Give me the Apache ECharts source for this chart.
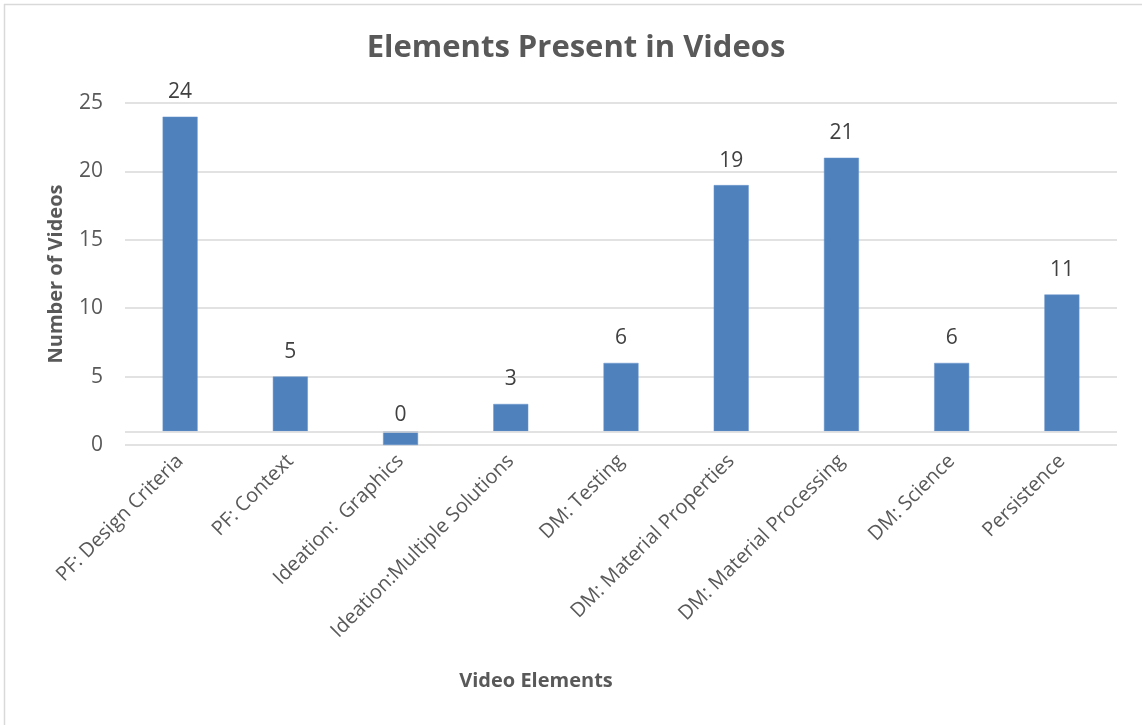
<!DOCTYPE html>
<html>
<head>
<meta charset="utf-8">
<script src="https://cdn.jsdelivr.net/npm/echarts@6/dist/echarts.min.js"></script>
<style>
  html, body { margin: 0; padding: 0; background: #ffffff; }
  #chart { width: 1142px; height: 725px; }
</style>
</head>
<body>
<div id="chart"></div>
<script>
// ---- data ----
var categories = [
  'PF: Design Criteria',
  'PF: Context',
  'Ideation:  Graphics',
  'Ideation:Multiple Solutions',
  'DM: Testing',
  'DM: Material Properties',
  'DM: Material Processing',
  'DM: Science',
  'Persistence'
];
var values = [24, 5, 0, 3, 6, 19, 21, 6, 11];
var yTicks = [0, 5, 10, 15, 20, 25];
var axisCross = 1; // horizontal axis crosses the value axis at 1

var chart = echarts.init(document.getElementById('chart'), null, { renderer: 'canvas' });

var FONT = '"Open Sans", "Liberation Sans", sans-serif';

var option = {
  backgroundColor: '#ffffff',
  animation: false,
  graphic: [
    { type: 'line', shape: { x1: 4, y1: 4.5, x2: 1142, y2: 4.5 }, style: { stroke: '#d9d9d9', lineWidth: 1.5 }, silent: true },
    { type: 'line', shape: { x1: 4.5, y1: 4, x2: 4.5, y2: 725 }, style: { stroke: '#d9d9d9', lineWidth: 1.5 }, silent: true },
    {
      type: 'text', x: 576, y: 48,
      style: { text: 'Elements Present in Videos', font: 'bold 31px ' + FONT, fill: '#595959', textAlign: 'center', textVerticalAlign: 'middle' }
    },
    {
      type: 'text', x: 536, y: 681,
      style: { text: 'Video Elements', font: 'bold 20px ' + FONT, fill: '#595959', textAlign: 'center', textVerticalAlign: 'middle' }
    }
  ],
  grid: { left: 125, right: 25, top: 103, bottom: 280, containLabel: false },
  xAxis: {
    type: 'category',
    data: categories,
    axisLine: { show: false },
    axisTick: { show: false },
    axisLabel: {
      rotate: 45,
      interval: 0,
      margin: 13,
      color: '#595959',
      fontFamily: FONT,
      fontSize: 20
    }
  },
  yAxis: {
    type: 'value',
    min: yTicks[0],
    max: yTicks[yTicks.length - 1],
    interval: yTicks[1] - yTicks[0],
    name: 'Number of Videos',
    nameLocation: 'middle',
    nameGap: 59,
    nameTextStyle: { color: '#595959', fontFamily: FONT, fontWeight: 'bold', fontSize: 20 },
    axisLine: { show: false },
    axisTick: { show: false },
    axisLabel: { color: '#595959', fontFamily: FONT, fontSize: 21, margin: 22 },
    splitLine: { lineStyle: { color: '#d9d9d9', width: 1.5 } }
  },
  series: [
    {
      type: 'bar',
      stack: 'v',
      stackStrategy: 'all',
      barWidth: 35,
      data: values.map(function () { return axisCross; }),
      itemStyle: { color: 'rgba(0,0,0,0)' },
      silent: true,
      markLine: {
        silent: true,
        symbol: 'none',
        label: { show: false },
        lineStyle: { color: '#d9d9d9', width: 1.5, type: 'solid' },
        data: [{ yAxis: axisCross }]
      }
    },
    {
      type: 'bar',
      stack: 'v',
      stackStrategy: 'all',
      barWidth: 35,
      data: values.map(function (v) {
        return {
          value: v - axisCross,
          label: { distance: v < axisCross ? 6 : 14 }
        };
      }),
      itemStyle: { color: '#4F81BD', borderColor: '#6b97cc', borderWidth: 0.5 },
      label: {
        show: true,
        position: 'top',
        color: '#404040',
        fontFamily: FONT,
        fontSize: 21,
        formatter: function (p) { return String(values[p.dataIndex]); }
      }
    }
  ]
};

chart.setOption(option);
</script>
</body>
</html>
